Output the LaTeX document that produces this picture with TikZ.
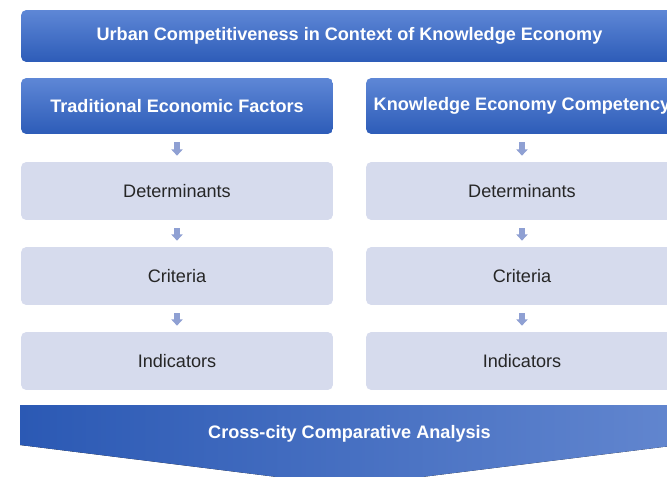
\documentclass[tikz,border=0pt]{standalone}
\usepackage{fontspec}
\setmainfont{Liberation Sans}
\usetikzlibrary{arrows.meta}

\definecolor{hdrtop}{RGB}{94,135,214}
\definecolor{hdrbot}{RGB}{45,92,184}
\definecolor{boxfill}{RGB}{214,219,237}
\definecolor{flowcol}{RGB}{143,160,211}
\definecolor{chevl}{RGB}{43,89,180}
\definecolor{chevr}{RGB}{98,134,207}

\tikzset{
	hdr/.style={rounded corners=3pt, top color=hdrtop, bottom color=hdrbot,
		text=white, font=\fontsize{10.3}{12}\selectfont\bfseries,
		minimum width=6.24cm, minimum height=1.12cm},
	lvl/.style={rounded corners=3pt, fill=boxfill, text=black!85,
		font=\fontsize{10.3}{12}\selectfont,
		minimum width=6.24cm, minimum height=1.16cm},
	flow/.style={flowcol, line width=3.4pt, shorten <=4.5pt, shorten >=3.4pt,
		-{Triangle[width=6.4pt, length=3.6pt]}}
}

\begin{document}
\begin{tikzpicture}[x=0.02cm, y=-0.02cm]
	\useasboundingbox (0,0) rectangle (667,477);
	\clip (0,0) rectangle (667,477);

	\node[hdr, minimum width=13.14cm, minimum height=1.04cm] (top) at (349.5,36)
		{Urban Competitiveness in Context of Knowledge Economy};

	% two columns, header plus three levels each
	\foreach \c/\x/\t in {L/177/Traditional Economic Factors, R/522/Knowledge Economy Competency}
	{
		\node[hdr] (\c0) at (\x,106) {\t};
		\node[lvl] (\c1) at (\x,191) {Determinants};
		\node[lvl] (\c2) at (\x,276) {Criteria};
		\node[lvl] (\c3) at (\x,361) {Indicators};
		\draw[flow] (\c0) -- (\c1);
		\draw[flow] (\c1) -- (\c2);
		\draw[flow] (\c2) -- (\c3);
	}

	% chevron at the bottom
	\fill[left color=chevl, right color=chevr]
		(20,405) -- (679,405) -- (679,445) -- (349.5,486) -- (20,445) -- cycle;
	\node[text=white, font=\fontsize{10.3}{12}\selectfont\bfseries] (cca) at (349.5,434)
		{Cross-city Comparative Analysis};
\end{tikzpicture}
\end{document}
